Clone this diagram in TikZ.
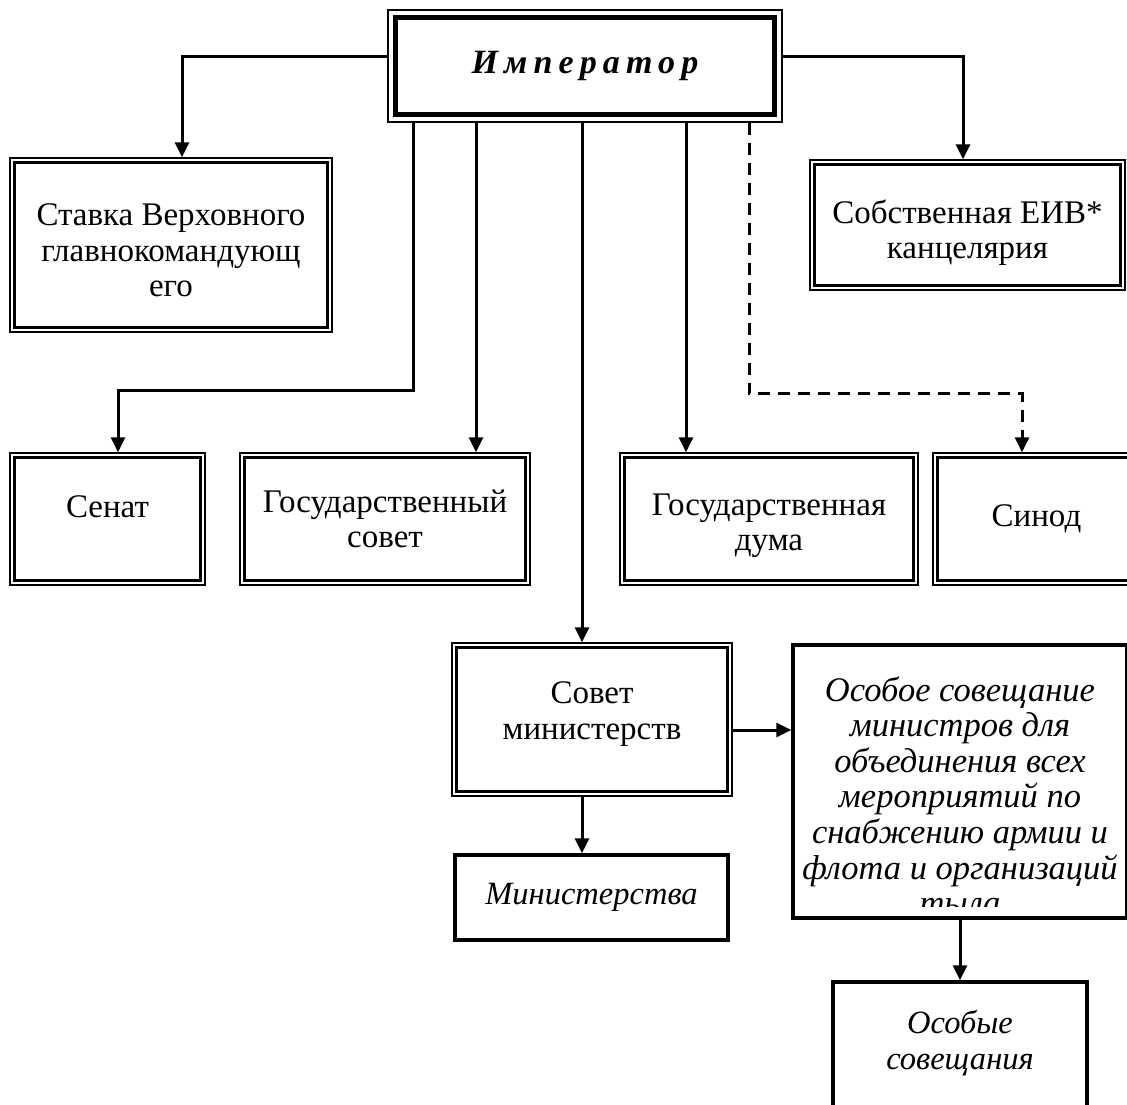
\documentclass[tikz,border=0pt]{standalone}
\usepackage{fontspec}
\setmainfont{Liberation Serif}
\newfontfamily\empfont[LetterSpace=18]{Liberation Serif}
\usetikzlibrary{arrows.meta}
\begin{document}
\begin{tikzpicture}[x=1pt,y=-1pt,
  lbl/.style={font=\fontsize{33}{35.5}\selectfont, align=center, inner sep=0pt},
  itlbl/.style={font=\fontsize{32.5}{35.5}\selectfont\itshape},
  dbl/.style={lbl, draw, line width=1.3pt},
  plainbox/.style={lbl, draw, line width=3.5pt},
  innerline/.style={line width=3pt},
  conn/.style={line width=3pt, -{Triangle[length=15pt,width=14pt]}},
  dconn/.style={conn, dash pattern=on 12pt off 8pt},
]
\path[use as bounding box, clip] (0,0) rectangle (1127,1105);
\fill[white] (0,0) rectangle (1127,1105);

% emperor
\node[draw, line width=1.3pt, minimum width=394pt, minimum height=112pt, inner sep=0pt,
      font=\fontsize{34}{36}\selectfont\empfont\bfseries\itshape] (emp) at (585,66) {Император};
\draw[line width=5pt] ([shift={(8pt,-8pt)}]emp.north west) rectangle ([shift={(-8pt,8pt)}]emp.south east);

% double boxes
\node[dbl, minimum width=322pt, minimum height=174pt] (stavka) at (171,245) {\mbox{}\\[-2.5pt]Ставка Верховного\\главнокомандующ\\его};
\node[dbl, minimum width=315pt, minimum height=130pt] (sobst) at (967.5,225) {\mbox{}\\[3.5pt]Собственная ЕИВ*\\канцелярия};
\node[dbl, minimum width=195pt, minimum height=132pt] (senat) at (107.5,519) {Сенат\\[-11pt]};
\node[dbl, minimum width=290pt, minimum height=132pt] (gsovet) at (385,519) {Государственный\\совет};
\node[dbl, minimum width=298pt, minimum height=132pt] (gduma) at (769,519) {\mbox{}\\Государственная\\дума};
\node[dbl, minimum width=207pt, minimum height=132pt] (sinod) at (1036.5,519) {Синод};
\node[dbl, minimum width=280pt, minimum height=153pt] (sovmin) at (592,719.5) {Совет\\министерств\\[-17.5pt]};

\foreach \n in {stavka,sobst,senat,gsovet,gduma,sinod,sovmin}
  \draw[innerline] ([shift={(5pt,-5pt)}]\n.north west) rectangle ([shift={(-5pt,5pt)}]\n.south east);

% single boxes
\node[plainbox, itlbl, minimum width=273pt, minimum height=85pt] (minist) at (591.5,897.5) {Министерства};
\node[plainbox, minimum width=334pt, minimum height=273pt] (osoboe) at (960,781.5) {};
\begin{scope}
  \clip ([shift={(2pt,-2pt)}]osoboe.north west) rectangle ([shift={(-2pt,13pt)}]osoboe.south east);
  \node[lbl, anchor=north, font=\fontsize{34.5}{35.6}\selectfont\itshape] (osotext) at ([yshift=-33pt]osoboe.north)
    {Особое совещание\\министров для\\объединения всех\\мероприятий по\\снабжению армии и\\флота и организаций\\тыла};
\end{scope}
\node[plainbox, itlbl, minimum width=254pt, minimum height=128pt] (osobye) at (960,1046) {Особые\\совещания\\[-23pt]};

% connectors
\draw[conn] ([yshift=9pt]emp.west) -| ([xshift=11pt]stavka.north);
\draw[conn] ([yshift=9pt]emp.east) -| ([xshift=-4.5pt]sobst.north);
\draw[conn] ([xshift=-172pt]emp.south) -- ++(0,268) -| ([xshift=10.5pt]senat.north);
\draw[conn] ([xshift=-109pt]emp.south) -- ([xshift=-109pt]emp.south |- gsovet.north);
\draw[conn] ([xshift=-3pt]emp.south) -- ([xshift=-3pt]emp.south |- sovmin.north);
\draw[conn] ([xshift=101pt]emp.south) -- ([xshift=101pt]emp.south |- gduma.north);
\draw[dconn] ([xshift=164pt]emp.south) -- ++(0,271) -| ([xshift=-14.5pt]sinod.north);
\draw[conn] ([yshift=-10.5pt]sovmin.east) -- ([yshift=-10.5pt]sovmin.east -| osoboe.west);
\draw[conn] ([xshift=-10pt]sovmin.south) -- ([xshift=-10pt]sovmin.south |- minist.north);
\draw[conn] (osoboe.south) -- (osobye.north);
\end{tikzpicture}
\end{document}
